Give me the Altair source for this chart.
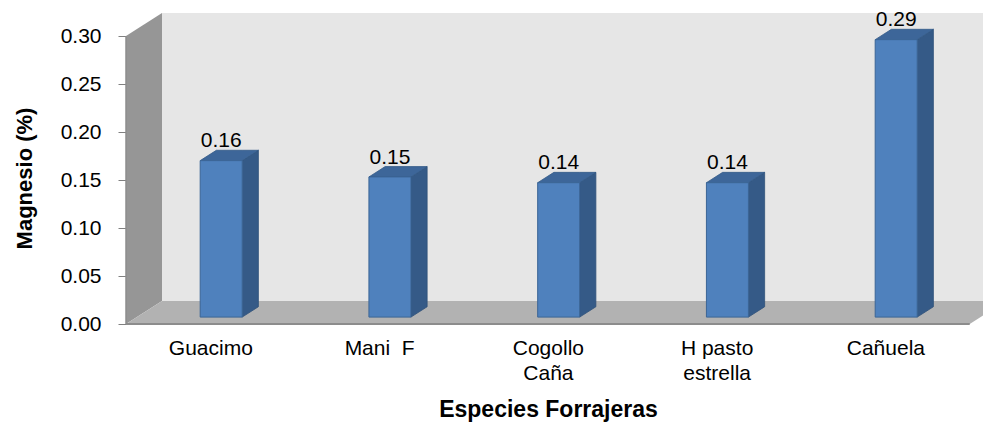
import json
import altair as alt
import pandas as pd

# ---- data ----
categories = ["Guacimo", "Mani\u00a0 F", "Cogollo Caña", "H pasto estrella", "Cañuela"]
label_lines = [["Guacimo"], ["Mani\u00a0 F"], ["Cogollo", "Caña"], ["H pasto", "estrella"], ["Cañuela"]]
magnesio = [0.163, 0.146, 0.140, 0.140, 0.289]
y_ticks = [0.0, 0.05, 0.10, 0.15, 0.20, 0.25, 0.30]

# ---- geometry of the pseudo-3D frame ----
W, H = 857, 311
PX_X = 168.75          # px per category
PX_Y = 960.0           # px per unit of value
X_MIN = -0.5
X_MAX = X_MIN + W / PX_X
Y_MAX = H / PX_Y
DEPTH_X = 36 / PX_X
DEPTH_Y = 23 / PX_Y
DXF, DYF = 0.3 * DEPTH_X, 0.3 * DEPTH_Y
DXB, DYB = 0.75 * DEPTH_X, 0.75 * DEPTH_Y
HW = 21 / PX_X
N = len(categories)
Y_TOP = y_ticks[-1]

FONT = "Liberation Sans"
xs = alt.Scale(domain=[X_MIN, X_MAX], nice=False, zero=False)
ys = alt.Scale(domain=[0, Y_MAX], nice=False, zero=False)

bars_df = pd.DataFrame({"i": list(range(N)), "cat": categories, "value": magnesio})

label_expr = json.dumps(label_lines, ensure_ascii=False) + "[datum.value]"

x_axis = alt.Axis(
    values=list(range(N)), labelExpr=label_expr, ticks=False, tickSize=0, domain=False,
    grid=False, labelFont=FONT, labelFontSize=21, labelColor="#000000",
    labelPadding=13, labelLineHeight=25, labelBaseline="top",
    title="Especies Forrajeras", titleFont=FONT, titleFontSize=23, titleFontWeight="bold",
    titleColor="#000000", titleX=422, titleY=85, titleBaseline="middle", titleAlign="center",
)
y_axis = alt.Axis(
    values=y_ticks, format=".2f", domain=False, grid=False, tickSize=8, tickColor="#808080",
    labelFont=FONT, labelFontSize=21, labelColor="#000000", labelPadding=17,
    title="Magnesio (%)", titleFont=FONT, titleFontSize=22, titleFontWeight="bold",
    titleColor="#000000", titleX=-102, titleY=165, titleAngle=270,
    titleBaseline="middle", titleAlign="center",
)


def X(field):
    return alt.X(field, scale=xs, axis=x_axis)


def Y(field, **kw):
    return alt.Y(field, scale=ys, axis=y_axis, **kw)


# ---- decorations: walls and floor ----
back_df = pd.DataFrame({"x": [X_MIN + DEPTH_X], "x2": [X_MAX + 1], "y": [DEPTH_Y], "y2": [Y_TOP + DEPTH_Y]})
left_df = pd.DataFrame({"x": [X_MIN, X_MIN + DEPTH_X], "lo": [0, DEPTH_Y], "hi": [Y_TOP, Y_TOP + DEPTH_Y]})
floor_df = pd.DataFrame({
    "x": [X_MIN, X_MIN + DEPTH_X, X_MIN + N, X_MIN + N + DEPTH_X],
    "lo": [0, 0, 0, DEPTH_Y],
    "hi": [0, DEPTH_Y, DEPTH_Y, DEPTH_Y],
})
edge_df = pd.DataFrame({"x": [X_MIN], "x2": [X_MIN + N], "y": [0.0]})
axis_df = pd.DataFrame({"x": [X_MIN], "y": [0.0], "y2": [Y_TOP]})

back = alt.Chart(back_df).mark_rect(color="#e6e6e6", clip=True).encode(
    x=X("x:Q"), x2="x2:Q", y=Y("y:Q"), y2="y2:Q")
left = alt.Chart(left_df).mark_area(color="#969696").encode(
    x=X("x:Q"), y=Y("lo:Q", stack=None), y2="hi:Q")
floor = alt.Chart(floor_df).mark_area(color="#b2b2b2", clip=True).encode(
    x=X("x:Q"), y=Y("lo:Q", stack=None), y2="hi:Q")
edge = alt.Chart(edge_df).mark_rule(color="#8c8c8c", strokeWidth=2).encode(
    x=X("x:Q"), x2="x2:Q", y=Y("y:Q"))
axis_line = alt.Chart(axis_df).mark_rule(color="#8c8c8c", strokeWidth=1.5).encode(
    x=X("x:Q"), y=Y("y:Q"), y2="y2:Q")

# ---- 3D bars ----
base = alt.Chart(bars_df).transform_calculate(
    xfl=f"datum.i + {DXF - HW}",
    xfr=f"datum.i + {DXF + HW}",
    xbl=f"datum.i + {DXB - HW}",
    xbr=f"datum.i + {DXB + HW}",
    xfc=f"datum.i + {DXF}",
    yfb=f"{DYF}",
    yft=f"{DYF} + datum.value",
    ybb=f"{DYB}",
    ybt=f"{DYB} + datum.value",
)

side = base.transform_calculate(
    sx="[datum.xfr, datum.xbr]", slo="[datum.yfb, datum.ybb]", shi="[datum.yft, datum.ybt]"
).transform_flatten(["sx", "slo", "shi"]).mark_area(
    color="#355a87", stroke="#2f5079", strokeWidth=0.8
).encode(x=X("sx:Q"), y=Y("slo:Q", stack=None), y2="shi:Q", detail="cat:N")

top = base.transform_calculate(
    tx="[datum.xfl, datum.xbl, datum.xfr, datum.xbr]",
    tlo="[datum.yft, datum.yft, datum.yft, datum.ybt]",
    thi="[datum.yft, datum.ybt, datum.ybt, datum.ybt]",
).transform_flatten(["tx", "tlo", "thi"]).mark_area(
    color="#3d6699", stroke="#345a88", strokeWidth=0.8
).encode(x=X("tx:Q"), y=Y("tlo:Q", stack=None), y2="thi:Q", detail="cat:N")

front = base.mark_rect(color="#4f81bd", stroke="#3b6596", strokeWidth=1).encode(
    x=X("xfl:Q"), x2="xfr:Q", y=Y("yfb:Q"), y2="yft:Q")

labels = base.mark_text(font=FONT, fontSize=21, color="#000000", baseline="alphabetic",
                        align="center", dy=-3).encode(
    x=X("xfc:Q"), y=Y("ybt:Q"), text=alt.Text("value:Q", format=".2f"))

chart = alt.layer(back, left, floor, edge, axis_line, side, top, front, labels).properties(
    width=W, height=H,
    autosize=alt.AutoSizeParams(type="none"),
    padding={"left": 118, "top": 5, "right": 0, "bottom": 99},
    background="#ffffff",
).configure_view(strokeWidth=0)

chart.save("out.html", embed_options={"renderer": "svg", "actions": False})
